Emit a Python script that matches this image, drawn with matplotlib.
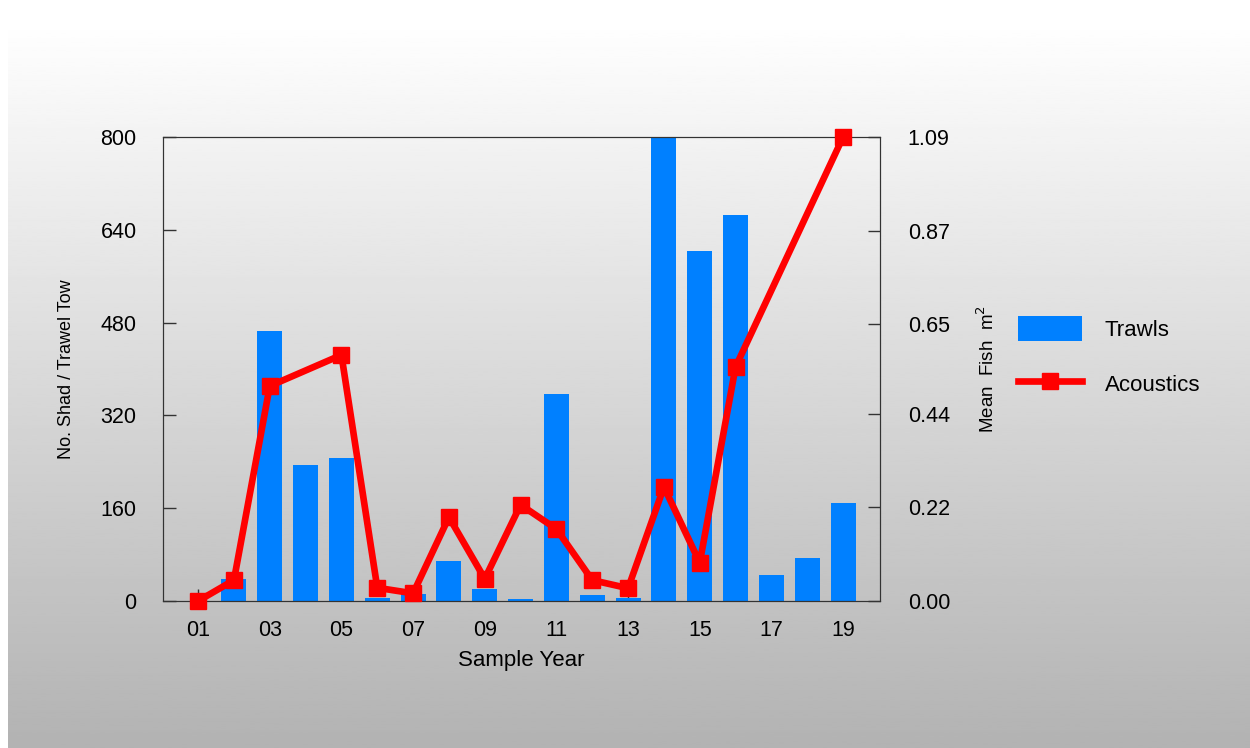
import matplotlib.pyplot as plt
import numpy as np
from matplotlib.patches import Patch
from matplotlib.lines import Line2D

plt.rcParams['font.family'] = ['Liberation Sans', 'DejaVu Sans']

years = np.arange(1, 20)
year_labels = ['01', '03', '05', '07', '09', '11', '13', '15', '17', '19']
trawls = [0, 38, 465, 234, 246, 6, 12, 69, 21, 3, 357, 11, 5, 800, 603, 665, 45, 74, 169]
acoustics = [0.0, 0.049, 0.505, np.nan, 0.578, 0.031, 0.018, 0.197, 0.052, 0.226,
             0.169, 0.049, 0.030, 0.268, 0.090, 0.550, np.nan, np.nan, 1.09]
left_ticks = [0, 160, 320, 480, 640, 800]
right_ticks = [0.00, 0.22, 0.44, 0.65, 0.87, 1.09]

fig = plt.figure(figsize=(12.5, 7.48), dpi=100)

# background gradient
bg = fig.add_axes([8 / 1250, 0, 1 - 8 / 1250, 1 - 20 / 748], zorder=-10)
grad = np.linspace(1.0, 0.70, 256).reshape(-1, 1)
bg.imshow(grad, aspect='auto', cmap='gray', vmin=0, vmax=1, extent=[0, 1, 0, 1])
bg.axis('off')

ax = fig.add_axes([163 / 1250, 1 - 601 / 748, (880 - 163) / 1250, (601 - 137) / 748])
ax.patch.set_alpha(0)
ax.bar(years, trawls, width=0.7, color='#0080ff', zorder=2)
ax.set_xlim(0.02, 20.03)
ax.set_ylim(0, 800)
ax.set_yticks(left_ticks)
ax.set_xticks(years[::2])
ax.set_xticklabels(year_labels)
ax.tick_params(direction='in', length=9, width=1, color='#333333', labelsize=15.5)
ax.tick_params(axis='y', pad=19)
ax.tick_params(axis='x', pad=14)
ax.set_xlabel('Sample Year', fontsize=16, labelpad=6)
ax.set_ylabel('No. Shad / Trawel Tow', fontsize=13, labelpad=18)
for s in ax.spines.values():
    s.set_color('#333333')

ax2 = ax.twinx()
ac = np.array(acoustics)
ok = ~np.isnan(ac)
ax2.plot(years[ok], ac[ok], color='#ff0000', lw=4.8, marker='s', ms=11.5, zorder=3, clip_on=False)
ax2.set_ylim(0, 1.09)
ax2.set_yticks(right_ticks)
ax2.set_yticklabels([f'{v:.2f}' for v in right_ticks])
ax2.tick_params(direction='in', length=9, width=1, color='#333333', labelsize=15.5, pad=20)
ax2.set_ylabel('Mean  Fish  m$^2$', fontsize=13.5, labelpad=19, rotation=90)
for s in ax2.spines.values():
    s.set_color('#333333')

handles = [Patch(facecolor='#0080ff'),
           Line2D([0], [0], color='#ff0000', lw=4.8, marker='s', ms=11.5)]
fig.legend(handles, ['Trawls', 'Acoustics'], loc='upper left',
           bbox_to_anchor=(998 / 1250, 1 - 296 / 748), frameon=False,
           fontsize=16, handlelength=2.9, handleheight=1.35, labelspacing=1.35,
           handletextpad=1.0)

fig.savefig('out.png', dpi=100)
